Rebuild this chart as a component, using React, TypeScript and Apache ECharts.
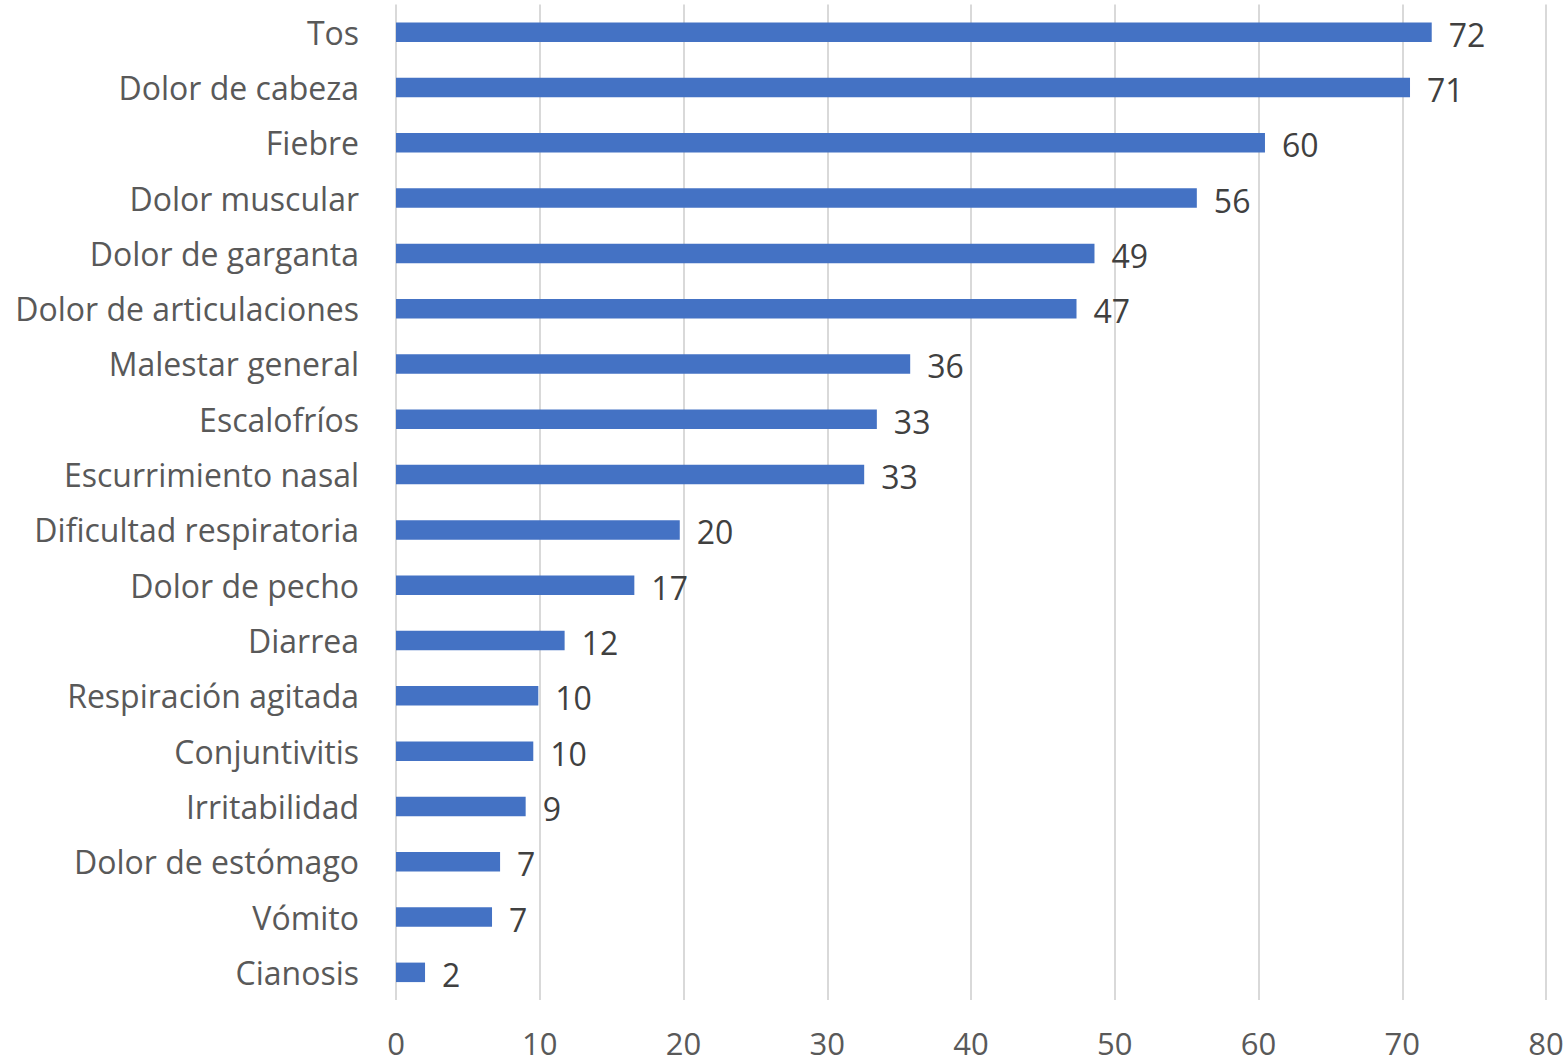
import React, { useEffect, useRef } from "react";
import * as echarts from "echarts";

const categories = [
  "Tos",
  "Dolor de cabeza",
  "Fiebre",
  "Dolor muscular",
  "Dolor de garganta",
  "Dolor de articulaciones",
  "Malestar general",
  "Escalofríos",
  "Escurrimiento nasal",
  "Dificultad respiratoria",
  "Dolor de pecho",
  "Diarrea",
  "Respiración agitada",
  "Conjuntivitis",
  "Irritabilidad",
  "Dolor de estómago",
  "Vómito",
  "Cianosis",
];

// values; labels show them rounded
const values = [
  72.05, 70.54, 60.45, 55.71, 48.59, 47.34, 35.77, 33.45, 32.57, 19.74, 16.58,
  11.73, 9.9, 9.55, 9.02, 7.24, 6.68, 2.02,
];

const xMin = 0;
const xMax = 80;
const xInterval = 10;

const FONT = "Open Sans";

export default function App() {
  const ref = useRef<HTMLDivElement>(null);
  useEffect(() => {
    if (!ref.current) return;
    const chart = echarts.init(ref.current, undefined, { renderer: "svg" });
    chart.setOption({
      animation: false,
      backgroundColor: "#ffffff",
      grid: { left: 396, right: 21, top: 4.5, bottom: 64, containLabel: false },
      xAxis: {
        type: "value",
        min: xMin,
        max: xMax,
        interval: xInterval,
        axisLine: { show: false },
        axisTick: { show: false },
        axisLabel: {
          color: "#595959",
          fontSize: 31,
          lineHeight: 26,
          fontFamily: FONT,
          margin: 30,
        },
        splitLine: { show: true, lineStyle: { color: "#d9d9d9", width: 2 } },
      },
      yAxis: {
        type: "category",
        data: categories,
        inverse: true,
        axisLine: { show: false },
        axisTick: { show: false },
        axisLabel: { color: "#595959", fontSize: 32, fontFamily: FONT, margin: 37 },
        splitLine: { show: false },
      },
      series: [
        {
          type: "bar",
          data: values,
          barWidth: 19.5,
          itemStyle: { color: "#4472c4" },
          label: {
            show: true,
            position: "right",
            distance: 17,
            color: "#404040",
            fontSize: 32,
            fontFamily: FONT,
            offset: [0, 2],
            formatter: (p: any) => String(Math.round(p.value)),
          },
        },
      ],
    });
    return () => chart.dispose();
  }, []);
  return (
    <div
      ref={ref}
      style={{ position: "absolute", left: 0, top: 0, width: 1567, height: 1064 }}
    />
  );
}
